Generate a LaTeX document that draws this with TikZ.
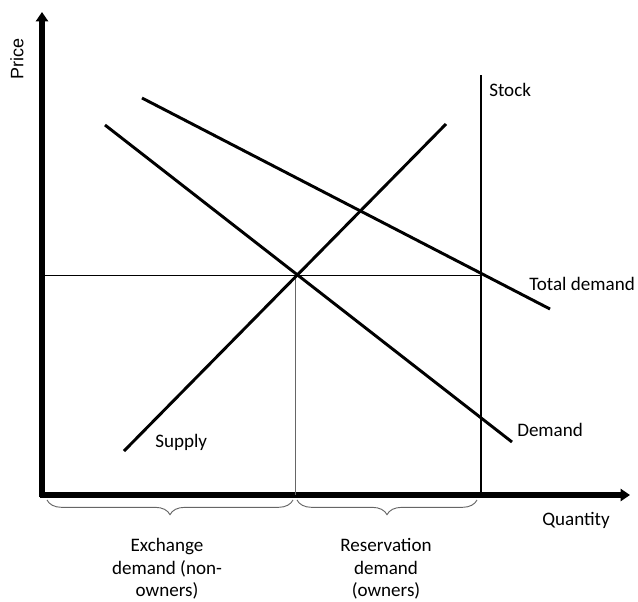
\documentclass[tikz,border=0pt]{standalone}
\usepackage{fontspec}
\setmainfont{Carlito}
\newfontfamily\arialfont{Liberation Sans}
\usetikzlibrary{arrows.meta,decorations.pathreplacing}
\begin{document}
\begin{tikzpicture}[x=0.75pt,y=-0.75pt,
  axis/.style={line width=3.9pt,-{Triangle[length=7pt,width=9pt]}},
  curve/.style={line width=2.2pt},
  thin/.style={line width=0.7pt},
  lbl/.style={font=\fontsize{14.3}{17}\selectfont,inner sep=0pt},
  bracelbl/.style={lbl,align=center},
  bracestyle/.style={draw=black!60,line width=0.7pt,decorate,decoration={brace,mirror,amplitude=11pt}}]
\useasboundingbox (0,0) rectangle (638,601);
% axes
\coordinate (O) at (42,495);
\coordinate (ytop) at (42,12);
\coordinate (xend) at (630,495);
\draw[axis] (42,497) -- (ytop);
\draw[axis] (40,495) -- (xend);
\node[font=\arialfont\fontsize{13.5}{15}\selectfont,rotate=90,inner sep=0pt] (price) at (17,59) {Price};
\node[lbl] (qty) at (576,520) {Quantity};
% equilibrium guide lines
\coordinate (E) at (295,275);
\coordinate (hl) at (42,275);
\coordinate (hr) at (481,275);
\coordinate (vb) at (295,495);
\draw[thin] (hl) -- (hr);
\draw[thin,black!60] (E) -- (vb);
% stock
\coordinate (s1) at (481,75);
\coordinate (s2) at (481,495);
\draw[line width=2pt] (s1) -- (s2);
\node[lbl,anchor=west] (stock) at (489,90) {Stock};
% supply
\coordinate (sup1) at (124,451);
\coordinate (sup2) at (446,124);
\draw[curve] (sup1) -- (sup2);
\node[lbl,anchor=west] (supply) at (155,442) {Supply};
% demand
\coordinate (d1) at (105,125);
\coordinate (d2) at (512,442);
\draw[curve] (d1) -- (d2);
\node[lbl,anchor=west] (demand) at (517,430) {Demand};
% total demand
\coordinate (t1) at (142,98);
\coordinate (t2) at (550,309);
\draw[curve] (t1) -- (t2);
\node[lbl,anchor=west] (total) at (529,284) {Total demand};
% braces
\coordinate (b1) at (47,500);
\coordinate (b2) at (293,500);
\coordinate (b3) at (297,500);
\coordinate (b4) at (477,500);
\draw[bracestyle] (b1) -- (b2);
\draw[bracestyle] (b3) -- (b4);
\node[bracelbl] (exch) at (167,569) {Exchange\\demand (non-\\owners)};
\node[bracelbl] (res) at (386,569) {Reservation\\demand\\(owners)};
\end{tikzpicture}
\end{document}
